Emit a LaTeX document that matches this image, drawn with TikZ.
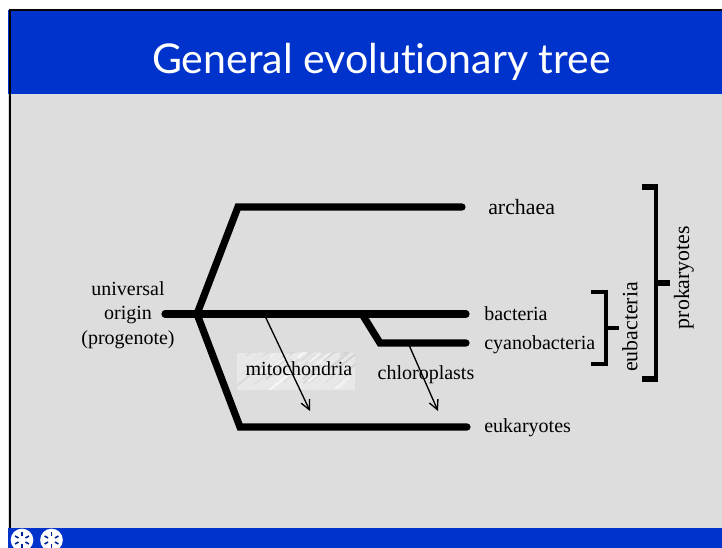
\documentclass[tikz,border=0pt]{standalone}
\usepackage{fontspec}
\setmainfont{Liberation Serif}
\newfontfamily\titlefont[Ligatures=NoCommon]{Lato}
\usepackage{tikz}
\usetikzlibrary{arrows.meta,positioning,calc}
\definecolor{slideblue}{RGB}{0,51,204}
\definecolor{slidegray}{RGB}{221,221,221}

\begin{document}
\begin{tikzpicture}[
  x=0.75pt, y=-0.75pt,
  font=\fontsize{15}{18}\selectfont,
  label/.style={inner sep=0pt, anchor=base west},
  wide/.style={font=\fontsize{16.4}{18}\selectfont},
  branch/.style={line width=5.4pt, line join=miter, line cap=round},
  transfer/.style={-{Straight Barb[length=7pt,width=7pt,line width=1pt]}, line width=1pt},
  smallbrace/.style={line width=2.3pt},
  bigbrace/.style={line width=2.7pt},
  badge/.style={circle, fill=white, minimum size=17pt, inner sep=0pt},
  spoke/.style={slideblue!70!black, line width=1.2pt},
]
  % page and bands
  \useasboundingbox (0,0) rectangle (722,548);
  \fill[white] (0,0) rectangle (722,548);
  \fill[slidegray] (8,10) rectangle (722,528);
  \fill[slideblue] (8,10) rectangle (722,94);
  \fill[slideblue] (8,528) rectangle (722,548);
  \draw[line width=1.8pt] (722,10) -- (10,10) -- (10,528);
  \node[white, font=\titlefont\fontsize{30.8}{36}\selectfont] (title) at (381.5,62) {General evolutionary tree};

  % marble patch behind the label
  \fill[gray!18] (237,353) rectangle (355,390);
  \begin{scope}
    \clip (237,353) rectangle (355,390);
    \pgfmathsetseed{11}
    \foreach \i in {1,...,70} {
      \pgfmathsetmacro{\sx}{237+118*rnd}
      \pgfmathsetmacro{\sy}{353+37*rnd}
      \pgfmathsetmacro{\sl}{8+14*rnd}
      \pgfmathsetmacro{\sg}{int(35+65*rnd)}
      \draw[white!\sg!gray!60, line width=1.5pt, line cap=round, opacity=0.8] (\sx,\sy) -- ++(\sl,-0.8*\sl);
    }
  \end{scope}

  % tree
  \coordinate (root) at (165,314);
  \coordinate (fork) at (197,314);
  \coordinate (split) at (362,314);
  \node[label, wide] (archaea) at (488,214.5) {archaea};
  \node[label] (bacteria) at (484,320.5) {bacteria};
  \node[label] (cyano) at (484,349.5) {cyanobacteria};
  \node[label] (euk) at (484,432.5) {eukaryotes};
  \node[align=center, inner sep=0pt] (origin) at (128,315) {universal\\[0.5pt]origin\\[0.5pt](progenote)};
  \draw[branch] (fork) -- (238,207) -- (462,207);
  \draw[branch] (root) -- (466,314);
  \draw[branch] (split) -- (380,343) -- (466,343);
  \draw[branch] (fork) -- (240,427) -- (467,427);

  % transfers
  \node[inner sep=0pt] (mito) at (299,369) {mitochondria};
  \node[inner sep=0pt] (chloro) at (426,374.5) {chloroplasts};
  \coordinate (mitoA) at (265,316);
  \coordinate (mitoB) at (310,411);
  \coordinate (chloA) at (409,345);
  \coordinate (chloB) at (438,411);
  \draw[transfer] (mitoA) -- (mitoB);
  \draw[transfer] (chloA) -- (chloB);

  % groupings
  \draw[smallbrace] (591,292) -- (606,292) -- (606,364) -- (591,364);
  \draw[smallbrace] (606,328) -- (619,328);
  \node[rotate=90, inner sep=0pt, wide] (eubac) at (630,327) {eubacteria};
  \draw[bigbrace] (656,184) -- (656,382);
  \draw[line width=4.5pt] (642,187) -- (657.5,187);
  \draw[line width=4.5pt] (642,379) -- (657.5,379);
  \draw[line width=4.5pt] (656,283) -- (670,283);
  \node[rotate=90, inner sep=0pt, wide] (prok) at (684,277.5) {prokaryotes};

  % footer buttons
  \foreach \px/\nm in {22/left, 51.5/right} {
    \node[badge] (btn\nm) at (\px,540) {};
    \foreach \ang in {30,90,150,210,270,330} {
      \draw[spoke] (btn\nm) ++(\ang:4) -- ++(\ang:4);
    }
  }
\end{tikzpicture}
\end{document}
